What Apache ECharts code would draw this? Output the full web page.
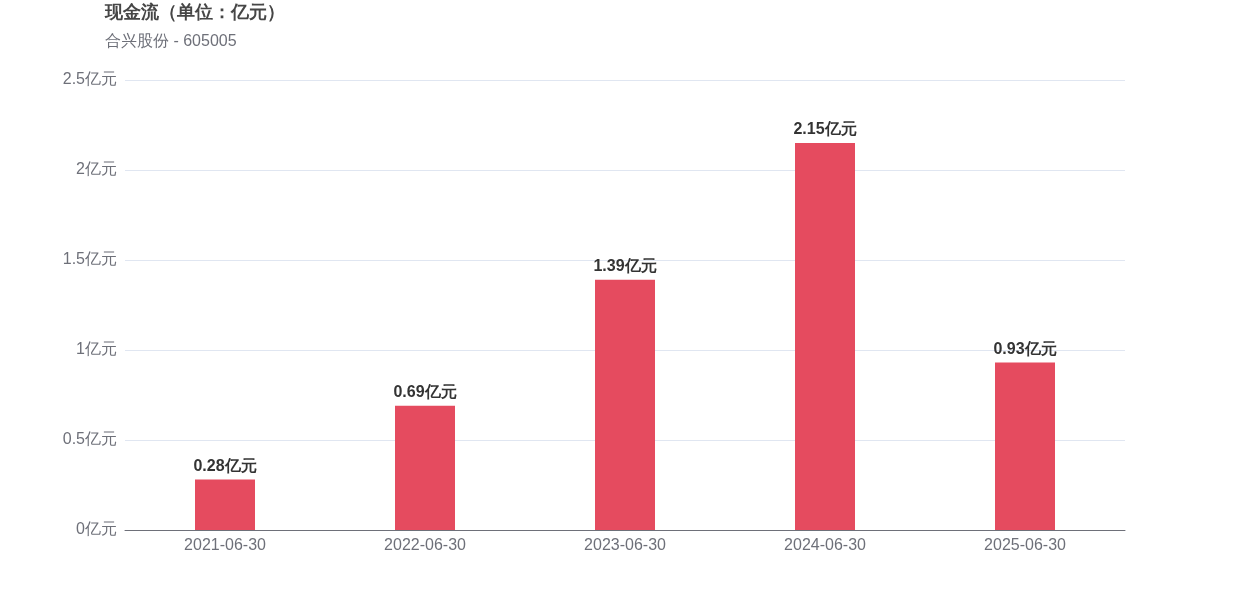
<!DOCTYPE html>
<html><head><meta charset="utf-8">
<script src="https://cdn.jsdelivr.net/npm/echarts@6/dist/echarts.min.js"></script>
<style>html,body{margin:0;padding:0;background:#fff}#c{width:1250px;height:600px}</style>
</head><body><div id="c"></div>
<script>
const categories = ['2021-06-30','2022-06-30','2023-06-30','2024-06-30','2025-06-30'];
const values = [0.28, 0.69, 1.39, 2.15, 0.93];
const titleText = '现金流（单位：亿元）';
const subTitleText = '合兴股份 - 605005';
const chart = echarts.init(document.getElementById('c'));
chart.setOption({
  animation: false,
  title: {
    text: titleText, subtext: subTitleText, left: 100, top: 0, itemGap: 12,
    padding: [4, 5],
    textStyle: {fontSize: 18, fontWeight: 'bold', color: '#464646', fontFamily: 'sans-serif'},
    subtextStyle: {fontSize: 16, color: '#6e7079', fontFamily: 'sans-serif'}
  },
  grid: {left: 125, right: 125, top: 80, bottom: 70},
  xAxis: {
    type: 'category', data: categories,
    axisLine: {lineStyle: {color: '#6e7079'}},
    axisTick: {show: false},
    axisLabel: {color: '#6e7079', fontSize: 16, margin: 8}
  },
  yAxis: {
    type: 'value', min: 0, max: 2.5, interval: 0.5,
    axisLabel: {color: '#6e7079', fontSize: 16, margin: 8, formatter: v => v + '亿元'},
    splitLine: {lineStyle: {color: '#e0e6f1'}}
  },
  series: [{
    type: 'bar', data: values, barWidth: 60,
    itemStyle: {color: '#e54b5f'},
    label: {show: true, position: 'top', fontSize: 16, fontWeight: 'bold', color: '#333', formatter: p => p.value + '亿元'}
  }]
});
</script></body></html>
